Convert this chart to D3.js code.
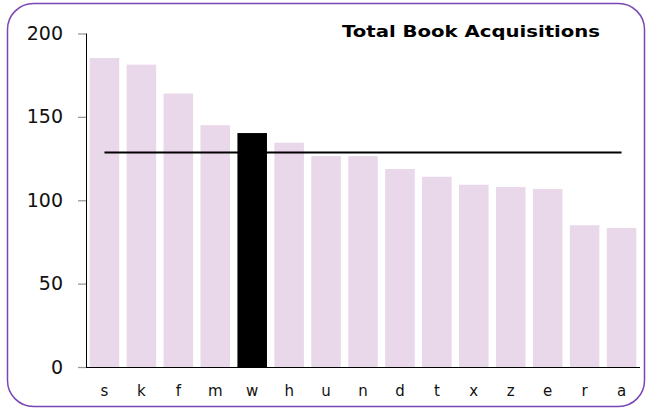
<!DOCTYPE html>
<html>
<head>
<meta charset="utf-8">
<script src="https://cdn.jsdelivr.net/npm/d3@7"></script>
<style>
  html, body { margin: 0; padding: 0; background: #fff; }
  svg { display: block; font-family: "DejaVu Sans", Verdana, sans-serif; }
</style>
</head>
<body>
<svg id="chart" width="651" height="410"></svg>
<script>
// Book acquisitions per branch, sorted descending
const categories = ["s", "k", "f", "m", "w", "h", "u", "n", "d", "t", "x", "z", "e", "r", "a"];
const values = [185.3, 181.3, 164, 145, 140.3, 134.5, 126.5, 126.5, 118.7, 114.1, 109.3, 107.9, 106.7, 85, 83.4];
const highlighted = ["w"];
const yTicks = [0, 50, 100, 150, 200];
const title = "Total Book Acquisitions";

const svg = d3.select("#chart");
const plot = { left: 86, right: 640, top: 33.5, bottom: 367 };

// Rounded frame
svg.append("rect")
  .attr("x", 7.5).attr("y", 3.5)
  .attr("width", 637).attr("height", 403)
  .attr("rx", 26).attr("ry", 26)
  .attr("fill", "none")
  .attr("stroke", "#7a46b4")
  .attr("stroke-width", 1.5);

const x = d3.scaleBand()
  .domain(categories)
  .range([plot.left, plot.right])
  .paddingInner(0.2)
  .paddingOuter(0.1);

const y = d3.scaleLinear()
  .domain([0, 200])
  .range([plot.bottom, plot.top]);

// Bars
svg.append("g")
  .selectAll("rect")
  .data(categories.map((c, i) => ({ c, v: values[i] })))
  .join("rect")
  .attr("x", d => x(d.c))
  .attr("y", d => y(d.v))
  .attr("width", x.bandwidth())
  .attr("height", d => y(0) - y(d.v))
  .attr("fill", d => highlighted.includes(d.c) ? "#000" : "#e9d7ea");

// Mean line across bar centres
const mean = d3.mean(values);
svg.append("line")
  .attr("x1", x(categories[0]) + x.bandwidth() / 2)
  .attr("x2", x(categories[categories.length - 1]) + x.bandwidth() / 2)
  .attr("y1", y(mean)).attr("y2", y(mean))
  .attr("stroke", "#000")
  .attr("stroke-width", 2);

// Y axis
const yAxis = svg.append("g")
  .attr("transform", `translate(${plot.left},0)`)
  .call(d3.axisLeft(y).tickValues(yTicks).tickSize(8).tickPadding(15));
yAxis.select(".domain").attr("stroke", "#000").attr("d", `M0.5,${plot.top}V${plot.bottom}`);
yAxis.selectAll(".tick line").attr("stroke", "#999").attr("stroke-width", 1.3);
yAxis.selectAll(".tick text")
  .attr("font-family", "DejaVu Sans, Verdana, sans-serif")
  .attr("font-size", 19)
  .attr("fill", "#111");

// X axis
const xAxis = svg.append("g")
  .attr("transform", `translate(0,${plot.bottom})`)
  .call(d3.axisBottom(x).tickSize(0).tickPadding(18));
xAxis.select(".domain").attr("stroke", "#000").attr("d", `M${plot.left},0.5H${plot.right}`);
xAxis.selectAll(".tick text")
  .attr("font-family", "DejaVu Sans, Verdana, sans-serif")
  .attr("font-size", 15)
  .attr("fill", "#111");

// Title in a wide bold face
svg.append("text")
  .attr("x", 600).attr("y", 37)
  .attr("text-anchor", "end")
  .attr("font-size", 16)
  .attr("font-weight", "bold")
  .attr("fill", "#000")
  .attr("textLength", 258)
  .attr("lengthAdjust", "spacingAndGlyphs")
  .text(title);
</script>
</body>
</html>
